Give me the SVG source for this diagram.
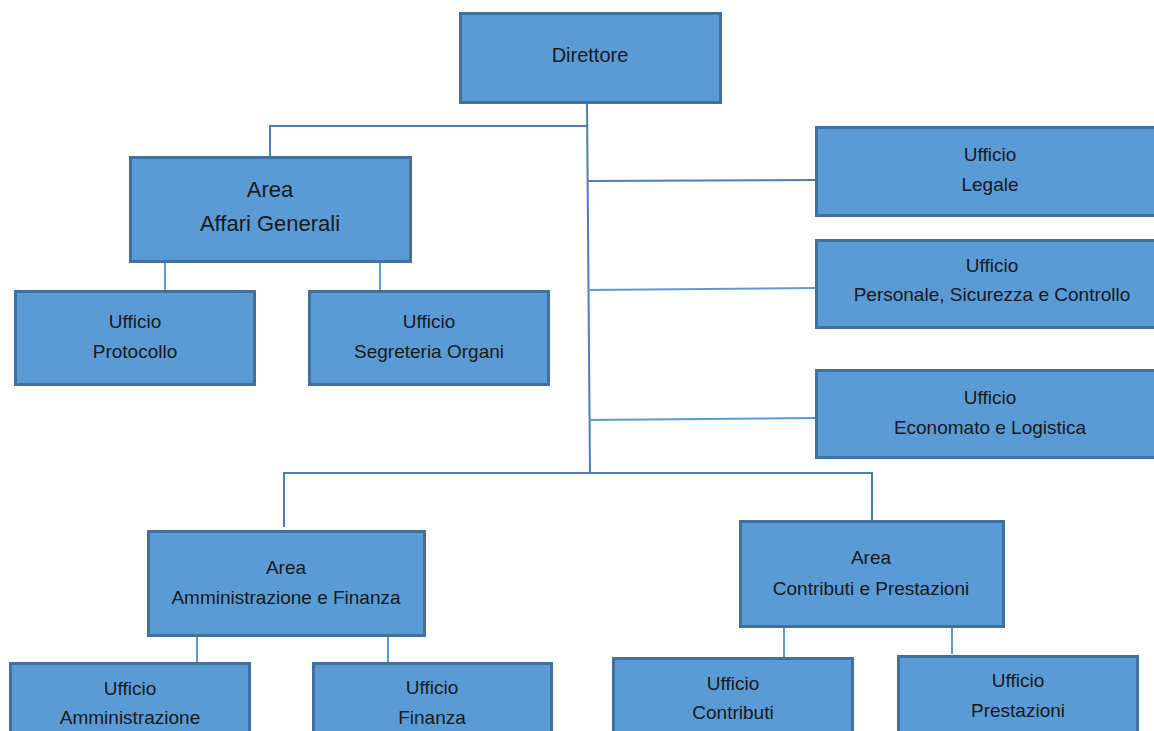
<svg xmlns="http://www.w3.org/2000/svg" width="1154" height="731" viewBox="0 0 1154 731">
<style>
.box{fill:#5b9bd5;stroke:#41719c;stroke-width:3}
.t{font-family:"Liberation Sans",Arial,sans-serif;font-size:19px;fill:#141a22;text-anchor:middle}
.ta{font-family:"Liberation Sans",Arial,sans-serif;font-size:22px;fill:#141a22;text-anchor:middle}
.c{stroke:#4a7ebb;stroke-width:2;fill:none}
.c2{stroke:#5b9bd5;stroke-width:2;fill:none}
</style>
<rect width="1154" height="731" fill="#ffffff"/>
<g id="connectors">
<path class="c" d="M587 103 L590 473"/>
<path class="c" d="M270 157 V126 H587"/>
<path class="c" d="M588 181 L816 180"/>
<path class="c2" d="M588 290 L816 288"/>
<path class="c2" d="M589 420 L816 418"/>
<path class="c" d="M284 527 V473 H872 V521"/>
<path class="c2" d="M165 261 V291"/>
<path class="c2" d="M380 261 V291"/>
<path class="c2" d="M197 635 V663"/>
<path class="c2" d="M388 635 V663"/>
<path class="c2" d="M784 626 V658"/>
<path class="c2" d="M952 626 V654"/>
</g>
<g id="direttore"><rect class="box" x="460.5" y="13.5" width="260" height="89"/><text class="t" x="590" y="62" style="font-size:20px">Direttore</text></g>
<g id="area-affari"><rect class="box" x="130.5" y="157.5" width="280" height="104"/><text class="ta" x="270" y="197">Area</text><text class="ta" x="270" y="231">Affari Generali</text></g>
<g id="uff-protocollo"><rect class="box" x="15.5" y="291.5" width="239" height="93"/><text class="t" x="135" y="328">Ufficio</text><text class="t" x="135" y="358">Protocollo</text></g>
<g id="uff-segreteria"><rect class="box" x="309.5" y="291.5" width="239" height="93"/><text class="t" x="429" y="328">Ufficio</text><text class="t" x="429" y="358">Segreteria Organi</text></g>
<g id="uff-legale"><rect class="box" x="816.5" y="127.5" width="345" height="88"/><text class="t" x="990" y="161">Ufficio</text><text class="t" x="990" y="191">Legale</text></g>
<g id="uff-personale"><rect class="box" x="816.5" y="240.5" width="345" height="87"/><text class="t" x="992" y="272">Ufficio</text><text class="t" x="992" y="301">Personale, Sicurezza e Controllo</text></g>
<g id="uff-economato"><rect class="box" x="816.5" y="370.5" width="345" height="87"/><text class="t" x="990" y="404">Ufficio</text><text class="t" x="990" y="434">Economato e Logistica</text></g>
<g id="area-amm"><rect class="box" x="148.5" y="531.5" width="276" height="104"/><text class="t" x="286" y="574">Area</text><text class="t" x="286" y="604">Amministrazione e Finanza</text></g>
<g id="area-contr"><rect class="box" x="740.5" y="521.5" width="263" height="105"/><text class="t" x="871" y="564">Area</text><text class="t" x="871" y="595">Contributi e Prestazioni</text></g>
<g id="uff-amministrazione"><rect class="box" x="10.5" y="663.5" width="239" height="80"/><text class="t" x="130" y="695">Ufficio</text><text class="t" x="130" y="724">Amministrazione</text></g>
<g id="uff-finanza"><rect class="box" x="313.5" y="663.5" width="238" height="80"/><text class="t" x="432" y="694">Ufficio</text><text class="t" x="432" y="724">Finanza</text></g>
<g id="uff-contributi"><rect class="box" x="613.5" y="658.5" width="239" height="85"/><text class="t" x="733" y="690">Ufficio</text><text class="t" x="733" y="719">Contributi</text></g>
<g id="uff-prestazioni"><rect class="box" x="898.5" y="656.5" width="239" height="85"/><text class="t" x="1018" y="687">Ufficio</text><text class="t" x="1018" y="717">Prestazioni</text></g>
</svg>
